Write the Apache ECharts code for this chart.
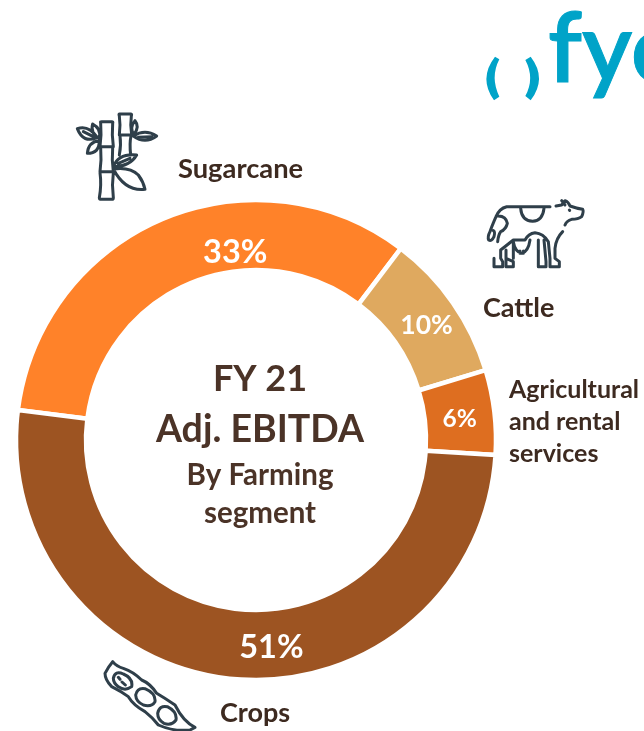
<!DOCTYPE html>
<html><head><meta charset="utf-8">
<style>html,body{margin:0;padding:0;background:#fff}#c{width:644px;height:731px}</style>
<script src="https://cdn.jsdelivr.net/npm/echarts@6/dist/echarts.min.js"></script>
</head><body><div id="c"></div>
<script>
const categories = ['Sugarcane','Cattle','Agricultural\nand rental\nservices','Crops'];
const values = [33.3,10,5.7,51];
const colors = ['#FF8229','#DFA95F','#DE6E20','#9D5422'];
const labelSizes = [32.5,26.5,24.5,32.5];
const labelOffsets = [[60,4],[0,5],[-3,3],[35,0]];
const centerLines = ['FY 21','Adj. EBITDA','By Farming','segment'];
const brown = '#4B3327', dark = '#3D2A20', ink = '#2F3F4A', teal = '#00A3C8', font = 'Lato, "Noto Sans", sans-serif';

const chart = echarts.init(document.getElementById('c'), null, {renderer:'canvas'});
function txt(s,x,y,size,align,color){
  return {type:'text',x,y,style:{text:s,fill:color||brown,font:`700 ${size}px ${font}`,align:align||'center',verticalAlign:'middle',lineHeight:32}};
}
function reg(name,d){
  echarts.graphic.registerShape(name, echarts.graphic.extendPath(d,{}));
  return name;
}
function icon(name,d,x,y,lw){
  return {type:reg(name,d),x,y,scaleX:1/3,scaleY:1/3,style:{fill:null,stroke:ink,lineWidth:lw||9,lineJoin:'round',lineCap:'round'}};
}
const bamboo = [
 'M122 68 Q120 65 125 65 H155 Q160 65 158 70 Q155 105 160 140 H120 Q125 105 122 68 Z',
 'M122 143 Q125 180 120 215 H160 Q155 180 158 143',
 'M120 218 Q125 255 118 293 Q118 298 125 298 H155 Q160 298 160 293 Q155 255 160 218',
 'M178 42 H213 Q216 42 214 48 Q210 75 215 105 H178 Q182 75 178 48 Q176 42 178 42 Z',
 'M180 108 Q184 135 178 165 M213 108 Q208 130 212 165',
 'M52 86 Q85 74 112 112 Q70 132 52 86 Z M70 95 L100 110',
 'M98 72 Q124 85 118 115 Q90 100 98 72 Z',
 'M82 160 Q85 125 118 122 Q118 160 82 160 Z',
 'M220 108 Q255 86 290 108 Q255 134 220 108 Z M235 112 L275 110',
 'M225 62 Q240 80 222 103 Q207 85 225 62 Z',
 'M160 200 Q175 160 230 165 Q210 200 160 200 Z M175 190 L210 175',
 'M160 207 Q210 200 235 225 Q250 245 255 268 Q195 275 160 207 Z'
].join(' ');
const cow = [
 'M110 50 H240',
 'M110 50 Q88 55 78 80 Q65 110 60 125 Q52 140 56 150 Q65 155 72 140 Q76 125 70 122',
 'M85 78 Q108 78 112 100 Q108 118 92 125 Q85 135 83 155',
 'M152 55 Q155 92 188 94 Q218 92 222 55',
 'M258 48 L275 45 L285 32 Q295 35 300 48 Q320 55 338 58 Q342 65 335 80 Q325 88 305 88 Q290 92 285 105',
 'M275 32 L285 45 M298 60 L299 61',
 'M278 125 Q258 145 255 175 V205 L268 215 V230 H240 V205 L235 155 Q220 130 195 128 Q175 130 165 150 H130 Q105 170 92 180 V205 L98 215 V230 H72 V205',
 'M108 180 V205 L130 215 V230 H108 V205 M130 155 V205',
 'M205 150 V230 H228 V215 L222 150',
 'M130 155 Q135 185 155 190 Q175 185 180 150 M150 190 V183 M160 190 V183'
].join(' ');
const pod = [
 'M68 35 Q55 50 45 70 Q45 90 65 110 Q95 125 115 140 Q130 165 165 185 Q190 205 205 225 Q250 245 300 240 L315 232 Q280 215 255 165 Q225 145 200 130 Q180 100 155 90 Q130 65 100 55 Q80 50 68 35 Z',
 'M70 85 Q75 60 100 72 Q130 85 125 110 Q105 125 85 110 Q70 100 70 85 Z',
 'M85 82 L90 88 M96 96 L106 105',
 'M137 135 Q142 112 165 116 Q198 130 195 155 Q185 172 160 165 Q138 155 137 135 Z',
 'M203 190 Q208 165 232 170 Q262 185 258 210 Q245 228 222 220 Q203 210 203 190 Z'
].join(' ');
const parens = 'M165 170 L178 178 Q150 232 178 290 L162 301 Q115 235 165 170 Z M272 170 L256 180 Q285 235 256 288 L272 301 Q322 235 272 170 Z';

chart.setOption({
  animation:false,
  series:[{
    type:'pie',
    center:[256,440],
    radius:[170,240],
    startAngle:172.8,
    clockwise:true,
    avoidLabelOverlap:false,
    labelLine:{show:false},
    itemStyle:{borderColor:'#fff',borderWidth:4.5},
    data:categories.map((n,i)=>({
      name:n,value:values[i],
      itemStyle:{color:colors[i]},
      label:{show:true,position:'inside',formatter:p=>Math.round(p.value)+'%',color:'#fff',fontFamily:font,fontWeight:700,fontSize:labelSizes[i],offset:labelOffsets[i]}
    }))
  }],
  graphic:{elements:[
    txt(centerLines[0],260,379,36),
    txt(centerLines[1],260,430,37.5),
    txt(centerLines[2],260,475,29.5),
    txt(centerLines[3],260,513,29.5),
    txt(categories[0],178,169,27.3,'left',dark),
    txt(categories[1],483,308,27,'left',dark),
    txt(categories[2],509,422,25,'left',dark),
    txt(categories[3],220,713,27,'left',dark),
    icon('bambooIcon',bamboo,60,100),
    icon('cowIcon',cow,470,190),
    icon('podIcon',pod,90,650),
    {type:reg('parensIcon',parens),x:440,y:0,scaleX:1/3,scaleY:1/3,style:{fill:teal}},
    {type:'text',x:548,y:3,style:{text:'fyo',fill:teal,stroke:teal,lineWidth:1,font:`600 96px ${font}`,align:'left',verticalAlign:'top'}}
  ]}
});
</script></body></html>
